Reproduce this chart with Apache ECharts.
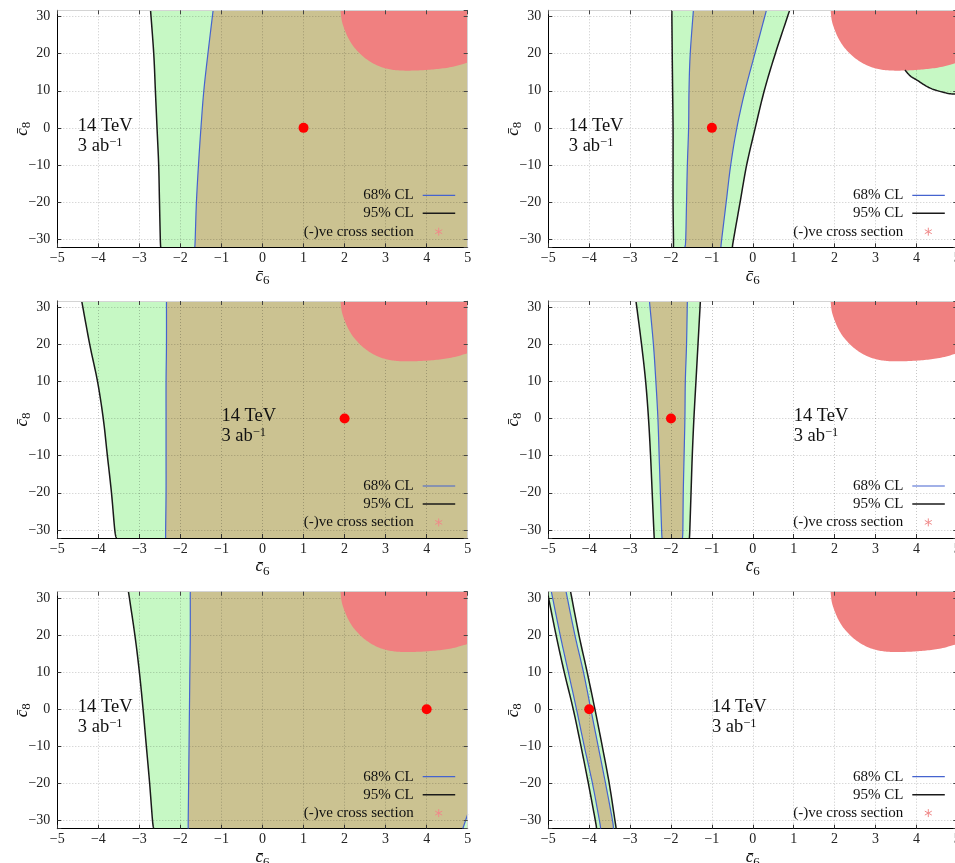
<!DOCTYPE html>
<html><head><meta charset="utf-8">
<script src="https://cdn.jsdelivr.net/npm/echarts@6/dist/echarts.min.js"></script>
<style>html,body{margin:0;padding:0;background:#fff}#c{width:955px;height:863px}</style>
</head><body><div id="c"></div>
<script>
// ---------------- data ----------------
const xMin = -5, xMax = 5;
const yMin = -32.2, yMax = 31.7;
// y levels at which the contour x-positions are read
const yLevels = [32, 20, 10, 0, -10, -20, -30, -32.2];
// best-fit points of the six panels
const bestFit = [[1, 0], [-1, 0], [2, 0], [-2, 0], [4, 0], [-4, 0]];
// x-position of the "14 TeV / 3 ab^-1" label in each panel
const labelX = [-4.5, -4.5, -1, 1, -4.5, -1];
// negative cross-section region (same in all panels)
const negXsec = [[1.90, 32], [1.93, 29], [2.0, 26.5], [2.1, 24], [2.25, 21.5], [2.5, 18.8], [2.8, 16.8],
  [3.1, 15.8], [3.4, 15.45], [3.8, 15.5], [4.2, 15.8], [4.6, 16.4], [5, 17.6]];

// panel A (best fit c6=1)
const a95L = [-2.73, -2.65, -2.61, -2.57, -2.53, -2.51, -2.49, -2.48];
const a68L = [-1.20, -1.33, -1.43, -1.50, -1.56, -1.61, -1.64, -1.65];
// panel B (best fit c6=-1)
const b95L = [-1.98, -1.97, -1.96, -1.95, -1.95, -1.95, -1.94, -1.94];
const b68L = [-1.45, -1.53, -1.56, -1.57, -1.60, -1.62, -1.64, -1.66];
const b68R = [0.34, 0.05, -0.19, -0.39, -0.54, -0.65, -0.76, -0.78];
const b95R = [0.91, 0.55, 0.28, 0.06, -0.15, -0.31, -0.47, -0.50];
const b95Corner = [[3.72, 15.6], [3.85, 14.0], [4.01, 12.9], [4.34, 10.7], [4.75, 9.35], [5, 9.1]];
// panel C (best fit c6=2)
const c95L = [-4.41, -4.21, -4.02, -3.88, -3.78, -3.68, -3.60, -3.56];
const c68L = [-2.34, -2.34, -2.35, -2.35, -2.35, -2.35, -2.36, -2.36];
// panel D (best fit c6=-2)
const d95L = [-2.86, -2.72, -2.62, -2.55, -2.50, -2.46, -2.42, -2.41];
const d68L = [-2.53, -2.43, -2.37, -2.32, -2.29, -2.26, -2.23, -2.22];
const d68R = [-1.60, -1.62, -1.65, -1.66, -1.68, -1.70, -1.71, -1.72];
const d95R = [-1.28, -1.34, -1.39, -1.44, -1.48, -1.51, -1.54, -1.55];
// panel E (best fit c6=4)
const e95L = [-3.27, -3.11, -3.00, -2.91, -2.83, -2.75, -2.68, -2.65];
const e68L = [-1.76, -1.76, -1.77, -1.78, -1.79, -1.80, -1.81, -1.81];
const e68Corner = [[4.88, -32.2], [5, -28.3]];
// panel F (best fit c6=-4)
const f95L = [[-5, 30.4], [-4.81, 20], [-4.61, 10], [-4.39, 0], [-4.20, -10], [-4.02, -20], [-3.85, -30], [-3.82, -32.2]];
const f68L = [-4.93, -4.71, -4.51, -4.31, -4.12, -3.92, -3.75, -3.72];
const f68R = [-4.57, -4.35, -4.14, -3.96, -3.78, -3.60, -3.43, -3.41];
const f95R = [-4.46, -4.25, -4.05, -3.86, -3.68, -3.51, -3.37, -3.34];

const legendItems = ['68% CL', '95% CL', '(-)ve cross section'];

// ---------------- build ----------------
const zipY = xs => xs.map((x, i) => [x, yLevels[i]]);
const rev = a => a.slice().reverse();
const C = pts => ({ curve: pts });      // smooth curve segment
const S = pts => ({ pts: pts });        // straight corner points

const panels = [
  { f95: [[C(zipY(a95L)), S([[5, -32.2], [5, 32]])]],
    f68: [[C(zipY(a68L)), S([[5, -32.2], [5, 32]])]],
    l95: [zipY(a95L)], l68: [zipY(a68L)] },
  { f95: [[C(zipY(b95L)), C(rev(zipY(b95R)))], [S([[3.6, 20], [3.6, 17]]), C(b95Corner), S([[5, 20]])]],
    f68: [[C(zipY(b68L)), C(rev(zipY(b68R)))]],
    l95: [zipY(b95L), zipY(b95R), b95Corner], l68: [zipY(b68L), zipY(b68R)] },
  { f95: [[C(zipY(c95L)), S([[5, -32.2], [5, 32]])]],
    f68: [[C(zipY(c68L)), S([[5, -32.2], [5, 32]])]],
    l95: [zipY(c95L)], l68: [zipY(c68L)] },
  { f95: [[C(zipY(d95L)), C(rev(zipY(d95R)))]],
    f68: [[C(zipY(d68L)), C(rev(zipY(d68R)))]],
    l95: [zipY(d95L), zipY(d95R)], l68: [zipY(d68L), zipY(d68R)] },
  { f95: [[C(zipY(e95L)), S([[5, -32.2], [5, 32]])]],
    f68: [[C(zipY(e68L)), S(e68Corner), S([[5, 32]])]],
    l95: [zipY(e95L)], l68: [zipY(e68L), e68Corner] },
  { f95: [[S([[-5, 32]]), C(f95L), C(rev(zipY(f95R)))]],
    f68: [[C(zipY(f68L)), C(rev(zipY(f68R)))]],
    l95: [f95L, zipY(f95R)], l68: [zipY(f68L), zipY(f68R)] }
];

const FONT = '"Liberation Serif", "DejaVu Serif", serif';
const GREEN = '#c6f8c4', OLIVE = '#cbc291', RED = '#f08080';
const BLUE = '#4563cf', BLACK = '#1a1a1a';
const colL = [57.3, 548.3], colW = [410.4, 409], rowT = [10.3, 301, 591.7], H = 237;

const fmt = v => (v < 0 ? '\u2212' + Math.abs(v) : String(v));
const yfmt = v => (Math.abs(v - Math.round(v / 10) * 10) < 1e-6 ? fmt(Math.round(v)) : '');
const nameRich = {
  c: { fontFamily: FONT, fontSize: 17, fontStyle: 'italic', color: '#111', lineHeight: 22 },
  s: { fontFamily: FONT, fontSize: 13, color: '#111', lineHeight: 22, verticalAlign: 'bottom' }
};

// Catmull-Rom densification in pixel space (rendering only)
function spline(p) {
  if (p.length < 3) return p;
  const out = [];
  for (let i = 0; i < p.length - 1; i++) {
    const p0 = p[Math.max(i - 1, 0)], p1 = p[i], p2 = p[i + 1], p3 = p[Math.min(i + 2, p.length - 1)];
    for (let k = 0; k < 10; k++) {
      const t = k / 10, t2 = t * t, t3 = t2 * t;
      out.push([0, 1].map(d => 0.5 * ((2 * p1[d]) + (-p0[d] + p2[d]) * t +
        (2 * p0[d] - 5 * p1[d] + 4 * p2[d] - p3[d]) * t2 + (-p0[d] + 3 * p1[d] - 3 * p2[d] + p3[d]) * t3)));
    }
  }
  out.push(p[p.length - 1]);
  return out;
}

const grids = [], xAxes = [], yAxes = [], series = [], graphics = [];

function fillSeries(ax, segs, color, z) {
  const flat = segs.flatMap(s => s.curve || s.pts);
  return {
    type: 'custom', xAxisIndex: ax, yAxisIndex: ax, z, silent: true, clip: true,
    data: flat, encode: { x: 0, y: 1 },
    renderItem: (params, api) => {
      if (params.dataIndex !== 0) return;
      const points = segs.flatMap(s => s.curve ? spline(s.curve.map(q => api.coord(q))) : s.pts.map(q => api.coord(q)));
      return { type: 'polygon', shape: { points }, style: { fill: color, stroke: null } };
    }
  };
}
function lineSeries(ax, pts, color, width, z) {
  return {
    type: 'custom', xAxisIndex: ax, yAxisIndex: ax, z, silent: true, clip: true,
    data: pts, encode: { x: 0, y: 1 },
    renderItem: (params, api) => {
      if (params.dataIndex !== 0) return;
      return { type: 'polyline', shape: { points: spline(pts.map(q => api.coord(q))) },
        style: { fill: null, stroke: color, lineWidth: width } };
    }
  };
}

panels.forEach((pn, i) => {
  const col = i % 2, row = Math.floor(i / 2);
  const L = colL[col], W = colW[col], T = rowT[row];
  grids.push({ left: L, top: T, width: W, height: H, containLabel: false, outerBoundsMode: 'none' });
  const axLabel = { fontFamily: FONT, fontSize: 14, color: '#222' };
  xAxes.push({
    gridIndex: i, type: 'value', min: xMin, max: xMax, interval: 1, position: 'bottom', z: 2,
    axisLine: { onZero: false, lineStyle: { color: '#000', width: 1 } },
    axisTick: { inside: true, length: 4, lineStyle: { color: '#333' } },
    axisLabel: { ...axLabel, margin: 4, formatter: fmt },
    splitLine: { show: true, lineStyle: { color: 'rgba(0,0,0,0.22)', type: [1, 2], width: 1 } },
    name: '{c|c\u0304}{s|6}', nameLocation: 'middle', nameGap: 18, nameMoveOverlap: false,
    nameTextStyle: { rich: nameRich }
  });
  xAxes.push({
    gridIndex: i, type: 'value', min: xMin, max: xMax, interval: 1, position: 'top', z: 6,
    axisLine: { onZero: false, lineStyle: { color: '#d4d4d4', width: 1 } },
    axisTick: { inside: true, length: 4, lineStyle: { color: '#444' } },
    axisLabel: { show: false }, splitLine: { show: false }
  });
  yAxes.push({
    gridIndex: i, type: 'value', min: yMin, max: yMax, position: 'left', z: 2,
    axisLine: { onZero: false, lineStyle: { color: '#000', width: 1 } },
    axisTick: { inside: true, length: 4, lineStyle: { color: '#333' } },
    axisLabel: { ...axLabel, margin: 7, formatter: yfmt },
    splitLine: { show: true, lineStyle: { color: 'rgba(0,0,0,0.22)', type: [1, 2], width: 1 } },
    name: '{c|c\u0304}{s|8}', nameLocation: 'middle', nameGap: 24, nameMoveOverlap: false,
    nameTextStyle: { rich: nameRich }
  });
  yAxes.push({
    gridIndex: i, type: 'value', min: yMin, max: yMax, position: 'right', z: 6,
    axisLine: { onZero: false, lineStyle: { color: '#d4d4d4', width: 1 } },
    axisTick: { inside: true, length: 4, lineStyle: { color: '#444' } },
    axisLabel: { show: false }, splitLine: { show: false }
  });
  const ax = 2 * i;
  pn.f95.forEach(segs => series.push(fillSeries(ax, segs, GREEN, 1)));
  pn.f68.forEach(segs => series.push(fillSeries(ax, segs, OLIVE, 1)));
  series.push(fillSeries(ax, [C(negXsec), S([[5, 32], [1.90, 32]])], RED, 3));
  pn.l95.forEach(p => series.push(lineSeries(ax, p, BLACK, 1.5, 4)));
  pn.l68.forEach(p => series.push(lineSeries(ax, p, BLUE, 1.2, 4)));
  series.push({
    type: 'scatter', xAxisIndex: ax, yAxisIndex: ax, z: 10, silent: true,
    data: [bestFit[i]], symbolSize: 10, itemStyle: { color: '#ff0000', opacity: 1 }
  });
  series.push({
    type: 'custom', xAxisIndex: ax, yAxisIndex: ax, z: 10, silent: true,
    data: [[labelX[i], 0]], encode: { x: 0, y: 1 },
    renderItem: (params, api) => {
      const p = api.coord([api.value(0), api.value(1)]);
      return {
        type: 'text', x: p[0], y: p[1] - 12,
        style: {
          text: '{a|14 TeV}\n{a|3 ab}{s|\u22121}', align: 'left', verticalAlign: 'top',
          rich: {
            a: { fontFamily: FONT, fontSize: 18.5, lineHeight: 20, fill: '#111' },
            s: { fontFamily: FONT, fontSize: 12.5, lineHeight: 20, fill: '#111', verticalAlign: 'top' }
          }
        }
      };
    }
  });
  // legend (key)
  const R = L + W, B = T + H;
  const rowsY = [B - 52, B - 34, B - 15.6];
  legendItems.forEach((t, k) => {
    graphics.push({ type: 'text', x: R - 54, y: rowsY[k], z: 100,
      style: { text: t, font: '15px ' + FONT, fill: '#111', align: 'right', verticalAlign: 'middle' } });
  });
  graphics.push({ type: 'line', z: 100, shape: { x1: R - 45, y1: rowsY[0], x2: R - 12.5, y2: rowsY[0] }, style: { stroke: BLUE, lineWidth: 1.2 } });
  graphics.push({ type: 'line', z: 100, shape: { x1: R - 45, y1: rowsY[1], x2: R - 12.5, y2: rowsY[1] }, style: { stroke: BLACK, lineWidth: 1.6 } });
  const ax0 = R - 29, ay0 = rowsY[2];
  [[0, -4, 0, 4], [-3.5, -2, 3.5, 2], [-3.5, 2, 3.5, -2]].forEach(s => {
    graphics.push({ type: 'line', z: 100, shape: { x1: ax0 + s[0], y1: ay0 + s[1], x2: ax0 + s[2], y2: ay0 + s[3] }, style: { stroke: '#f08a8a', lineWidth: 1 } });
  });
});

const chart = echarts.init(document.getElementById('c'), null, { renderer: 'canvas' });
chart.setOption({
  animation: false,
  backgroundColor: '#fff',
  grid: grids, xAxis: xAxes, yAxis: yAxes, series, graphic: graphics
});
</script></body></html>
